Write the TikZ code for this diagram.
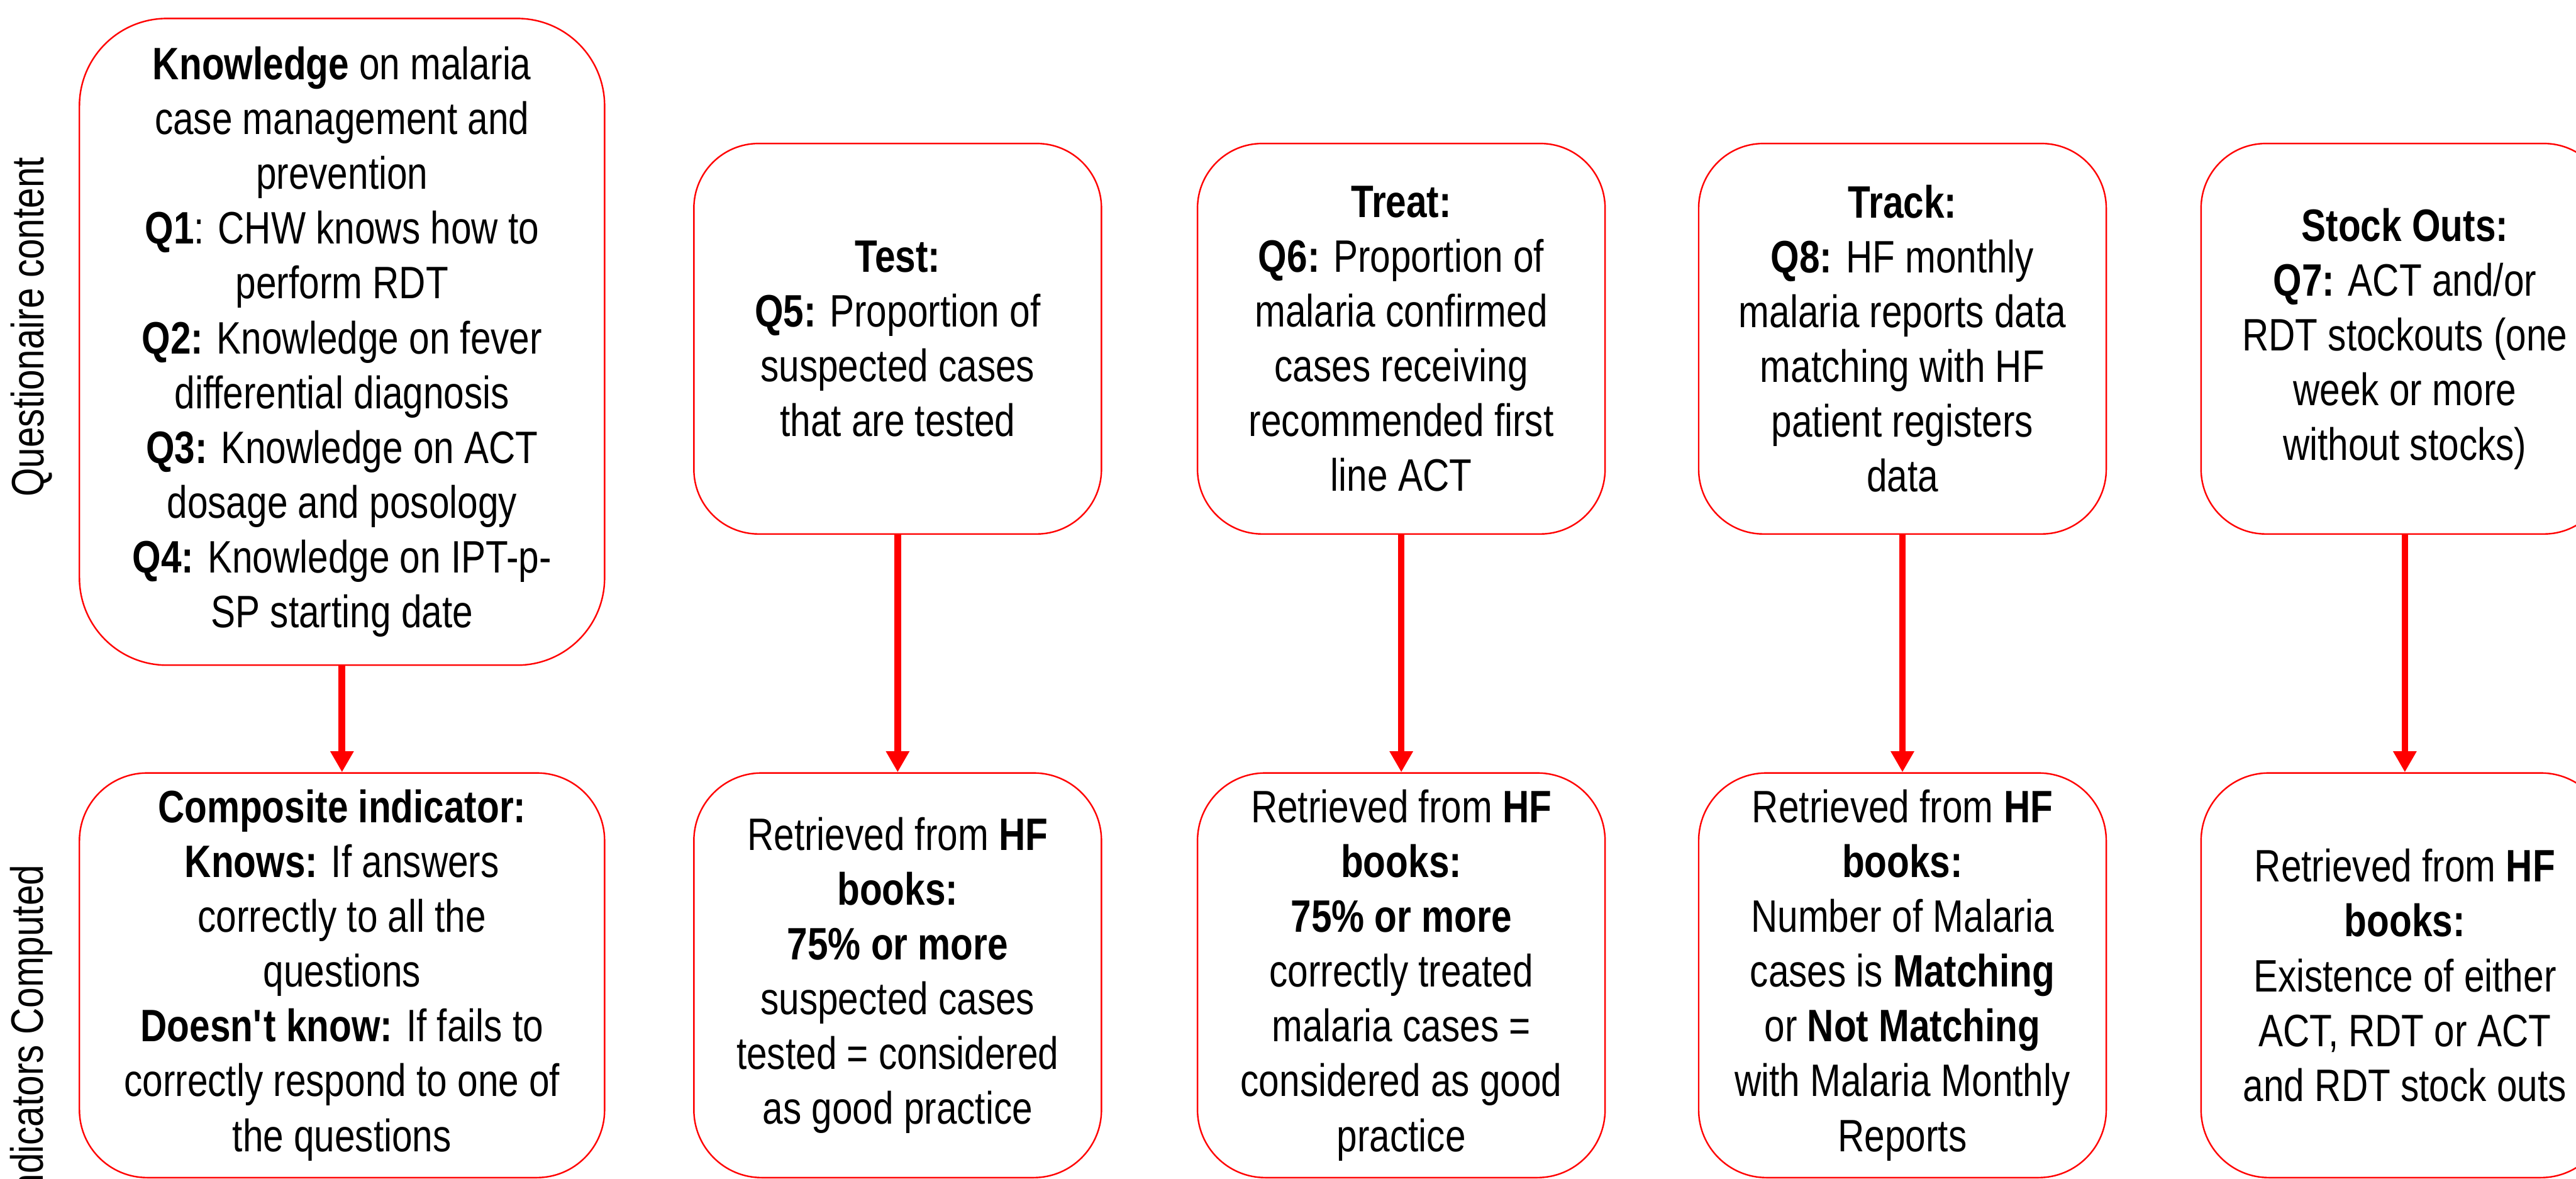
\documentclass[tikz,border=0pt]{standalone}
\usepackage{fontspec}
\setmainfont{Liberation Sans}[FakeStretch=0.81]
\usetikzlibrary{arrows.meta}
\definecolor{boxred}{RGB}{255,0,0}
\tikzset{
  qbox/.style={draw=boxred, line width=0.7pt, fill=white, align=center, inner sep=0pt,
    font=\fontsize{21pt}{25.3pt}\selectfont},
  widebox/.style={qbox, minimum width=8.53cm},
  narrowbox/.style={qbox, minimum width=6.62cm},
  toprow/.style={minimum height=6.34cm, rounded corners=1.05cm},
  botrow/.style={minimum height=6.57cm, rounded corners=1.1cm},
  flowarrow/.style={draw=boxred, line width=3.1pt, -{Triangle[width=0.36cm,length=0.34cm]}},
  sidelabel/.style={rotate=90, inner sep=0pt, font=\fontsize{21pt}{25.3pt}\selectfont}
}
\begin{document}
\begin{tikzpicture}
\clip (0,0) rectangle (41.84,-19.14);
\fill[white] (0,0) rectangle (41.84,-19.14);

% side labels
\node[sidelabel] (lq) at (0.51,-5.31) {Questionaire content};
\node[sidelabel] (li) at (0.51,-16.80) {Indicators Computed};

% top row
\node[widebox, minimum height=10.5cm, rounded corners=1.42cm] (t1) at (5.555,-5.55) {%
\textbf{Knowledge} on malaria\\
case management and\\
prevention\\
\textbf{Q1}: CHW knows how to\\
perform RDT\\
\textbf{Q2:} Knowledge on fever\\
differential diagnosis\\
\textbf{Q3:} Knowledge on ACT\\
dosage and posology\\
\textbf{Q4:} Knowledge on IPT-p-\\
SP starting date};

\node[narrowbox, toprow] (t2) at (14.58,-5.50) {%
\textbf{Test:}\\
\textbf{Q5:} Proportion of\\
suspected cases\\
that are tested};

\node[narrowbox, toprow] (t3) at (22.76,-5.50) {%
\textbf{Treat:}\\
\textbf{Q6:} Proportion of\\
malaria confirmed\\
cases receiving\\
recommended first\\
line ACT};

\node[narrowbox, toprow] (t4) at (30.90,-5.50) {%
\textbf{Track:}\\
\textbf{Q8:} HF monthly\\
malaria reports data\\
matching with HF\\
patient registers\\
data};

\node[narrowbox, toprow] (t5) at (39.06,-5.50) {%
\textbf{Stock Outs:}\\
\textbf{Q7:} ACT and/or\\
RDT stockouts (one\\
week or more\\
without stocks)};

% bottom row
\node[widebox, botrow] (b1) at (5.555,-15.835) {%
\textbf{Composite indicator:}\\
\textbf{Knows:} If answers\\
correctly to all the\\
questions\\
\textbf{Doesn\textquotesingle t know:} If fails to\\
correctly respond to one of\\
the questions};

\node[narrowbox, botrow] (b2) at (14.58,-15.835) {%
Retrieved from \textbf{HF}\\
\textbf{books:}\\
\textbf{75\% or more}\\
suspected cases\\
tested = considered\\
as good practice};

\node[narrowbox, botrow] (b3) at (22.76,-15.835) {%
Retrieved from \textbf{HF}\\
\textbf{books:}\\
\textbf{75\% or more}\\
correctly treated\\
malaria cases =\\
considered as good\\
practice};

\node[narrowbox, botrow] (b4) at (30.90,-15.835) {%
Retrieved from \textbf{HF}\\
\textbf{books:}\\
Number of Malaria\\
cases is \textbf{Matching}\\
or \textbf{Not Matching}\\
with Malaria Monthly\\
Reports};

\node[narrowbox, botrow] (b5) at (39.06,-15.835) {%
Retrieved from \textbf{HF}\\
\textbf{books:}\\
Existence of either\\
ACT, RDT or ACT\\
and RDT stock outs};

% connectors
\foreach \i in {1,...,5}{
  \draw[flowarrow] (t\i.south) -- (b\i.north);
}
\end{tikzpicture}
\end{document}
